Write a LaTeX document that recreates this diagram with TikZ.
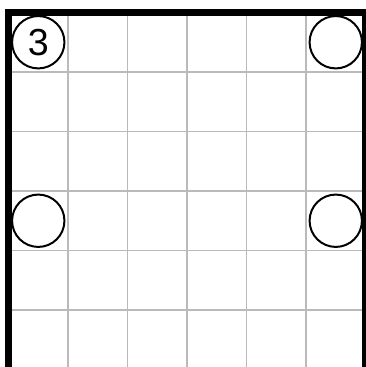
\documentclass[tikz,border=0pt]{standalone}
\usepackage{fontspec}
\setmainfont{Liberation Sans}
\usetikzlibrary{positioning}

\begin{document}
\begin{tikzpicture}[
        clue/.style={circle, draw=black, line width=0.95pt, minimum size=0.88cm, inner sep=0pt, font=\fontsize{18}{18}\selectfont},
        gridline/.style={draw=black!27, line width=0.5pt},
        border/.style={draw=black, line width=2.9pt, line join=miter}
    ]
        \useasboundingbox (-0.143, 0.210) rectangle (6.008, -5.958);

        % Grid
        \draw[gridline] (0,-6.3) grid (6,0);

        % Border
        \draw[border] (0,-6.3) -- (0,0) -- (6,0) -- (6,-6.3);

        % Circles
        \node[clue] (c11) at (0.5,-0.5) {3};
        \node[clue] (c16) at (5.5,-0.5) {};
        \node[clue] (c41) at (0.5,-3.5) {};
        \node[clue] (c46) at (5.5,-3.5) {};
    \end{tikzpicture}
\end{document}
